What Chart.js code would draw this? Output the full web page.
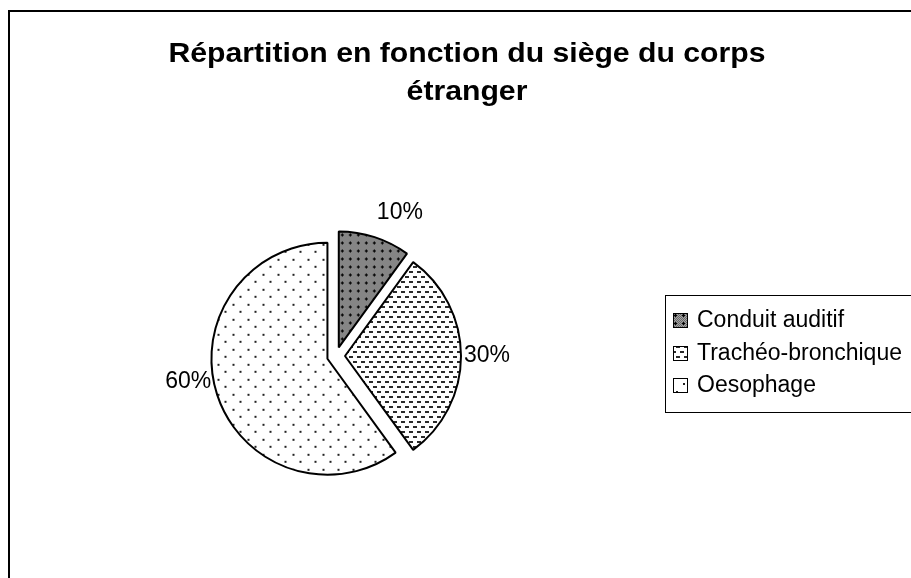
<!DOCTYPE html>
<html><head><meta charset="utf-8">
<script src="https://cdn.jsdelivr.net/npm/chart.js@4.4.1/dist/chart.umd.min.js"></script>
<style>
html,body{margin:0;padding:0;overflow:hidden;background:#fff}
#wrap{position:absolute;left:0;top:0;width:960px;height:620px}
</style>
</head><body><div id="wrap"><canvas id="c"></canvas></div>
<script>
// ---- data ----
const titleLines = ["Répartition en fonction du siège du corps", "étranger"];
const categories = ["Conduit auditif", "Trachéo-bronchique", "Oesophage"];
const values = [10, 30, 60];
const valueLabels = ["10%", "30%", "60%"];

// ---- styles ----
const patternKinds = ["grid", "dash", "dots"];
const explode = 9;
const labelShiftDeg = [6, 0, 8];
const labelGap = [41, 35, 34];
const FONT = '"Liberation Sans", Arial, sans-serif';

function makePattern(kind) {
  const t = document.createElement('canvas');
  const g = t.getContext('2d');
  if (kind === 'grid') {
    t.width = 8; t.height = 8;
    g.fillStyle = '#a4a4a4'; g.fillRect(0, 0, 8, 8);
    g.fillStyle = '#676767';
    for (let y = 0; y < 8; y++) for (let x = 0; x < 8; x++) if ((x + y) % 2 === 0) g.fillRect(x, y, 1, 1);
    g.fillStyle = '#000';
    g.fillRect(3, 2, 1, 3); g.fillRect(2, 3, 3, 1);
  } else if (kind === 'dash') {
    t.width = 8; t.height = 10;
    g.fillStyle = '#fff'; g.fillRect(0, 0, 8, 10);
    g.fillStyle = '#2a2a2a';
    g.fillRect(0, 1, 4, 2);
    g.fillRect(4, 6, 4, 2);
  } else {
    t.width = 15; t.height = 15;
    g.fillStyle = '#fff'; g.fillRect(0, 0, 15, 15);
    g.fillStyle = '#222';
    g.fillRect(1, 1, 2, 2); g.fillRect(8, 8, 2, 2);
  }
  return g.createPattern(t, 'repeat');
}
const ctx0 = document.getElementById('c').getContext('2d');
const fills = patternKinds.map(makePattern);

const decor = {
  id: 'decor',
  beforeDraw(chart) {
    const c = chart.ctx;
    c.save();
    c.fillStyle = '#fff';
    c.fillRect(0, 0, chart.width, chart.height);
    c.strokeStyle = '#000'; c.lineWidth = 2;
    c.strokeRect(9, 11, 930, 650);
    c.restore();
  },
  beforeDatasetDraw(chart, args) {
    // exploded slices: every arc moved outward along its bisector by the same distance
    const c = chart.ctx;
    args.meta.data.forEach(arc => {
      const p = arc.getProps(['startAngle', 'endAngle'], true);
      const mid = (p.startAngle + p.endAngle) / 2;
      c.save();
      c.translate(Math.cos(mid) * explode, Math.sin(mid) * explode);
      arc.draw(c, chart.chartArea);
      c.restore();
    });
    return false;
  },
  afterDatasetsDraw(chart) {
    const c = chart.ctx;
    const meta = chart.getDatasetMeta(0);
    const ds = chart.data.datasets[0];
    c.save();
    // value labels
    c.fillStyle = '#000';
    c.font = '23px ' + FONT;
    c.textAlign = 'center'; c.textBaseline = 'middle';
    meta.data.forEach((arc, i) => {
      const p = arc.getProps(['x', 'y', 'startAngle', 'endAngle', 'outerRadius'], true);
      const mid = (p.startAngle + p.endAngle) / 2 + labelShiftDeg[i] * Math.PI / 180;
      const r = p.outerRadius + labelGap[i];
      c.fillText(valueLabels[i], p.x + Math.cos(mid) * r, p.y + Math.sin(mid) * r);
    });
    // legend
    const lx = 665, ly = 295, lh = 117;
    c.strokeStyle = '#000'; c.lineWidth = 1;
    c.strokeRect(lx + 0.5, ly + 0.5, 400, lh);
    c.textAlign = 'left'; c.textBaseline = 'alphabetic';
    chart.data.labels.forEach((lab, i) => {
      const base = 327 + i * 32.5;
      const top = Math.round(base - 13);
      c.fillStyle = ds.backgroundColor[i];
      c.fillRect(674, top, 13, 13);
      c.strokeStyle = '#000'; c.lineWidth = 1;
      c.strokeRect(673.5, top - 0.5, 14, 14);
      c.fillStyle = '#000';
      c.fillText(lab, 697, base);
    });
    // title
    c.font = 'bold 28px ' + FONT;
    c.textAlign = 'center';
    const w = c.measureText(titleLines[0]).width;
    const sx = 597 / w;
    titleLines.forEach((line, i) => {
      c.save();
      c.translate(467, [62, 100][i]);
      c.scale(sx, 1);
      c.fillText(line, 0, 0);
      c.restore();
    });
    c.restore();
  }
};

new Chart(ctx0, {
  type: 'pie',
  data: {
    labels: categories,
    datasets: [{
      data: values,
      backgroundColor: fills,
      borderColor: '#000',
      borderWidth: 2,
      offset: 0,
      radius: 116
    }]
  },
  options: {
    responsive: true,
    maintainAspectRatio: false,
    animation: false,
    events: [],
    layout: { padding: { left: 206, right: 494, top: 226, bottom: 134 } },
    plugins: { legend: { display: false }, title: { display: false }, tooltip: { enabled: false } }
  },
  plugins: [decor]
});
</script>
</body></html>
